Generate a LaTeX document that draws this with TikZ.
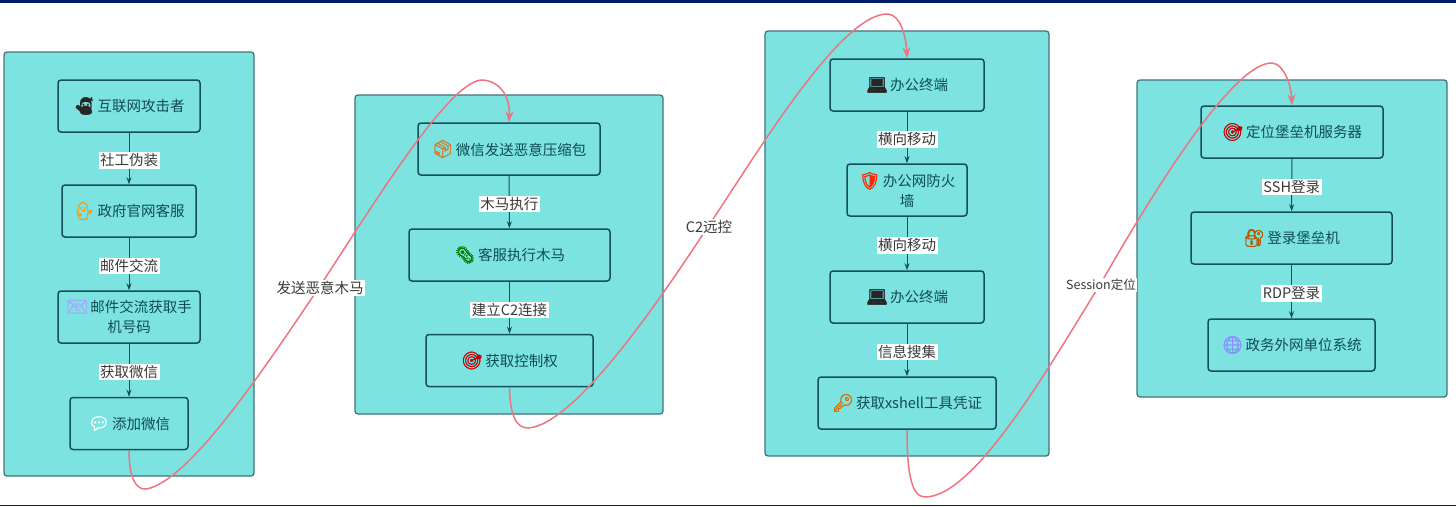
\documentclass[tikz,border=0pt]{standalone}
\usepackage{fontspec}
\setmainfont{Noto Sans CJK SC}
\newfontfamily\emojifont[Scale=1.2,FakeBold=1.6]{Noto Emoji}
\usetikzlibrary{arrows.meta}
\definecolor{panelfill}{HTML}{7CE3E1}
\definecolor{boxline}{HTML}{14505A}
\definecolor{boxtext}{HTML}{0F4C55}
\definecolor{labeltext}{HTML}{3A3A3A}
\definecolor{jump}{HTML}{EE7480}
\definecolor{navybar}{HTML}{001A66}
\newcommand{\ico}[2]{{\emojifont\color{#1}#2}\hspace{2pt}}
\tikzset{
  panel/.style={draw=boxline!80, fill=panelfill, line width=1.3pt, rounded corners=3pt, inner sep=0pt},
  stepbox/.style={draw=boxline, line width=1.5pt, rounded corners=3pt, inner sep=0pt, minimum height=52pt,
    align=center, text=boxtext, font=\fontsize{14.5pt}{20pt}\selectfont,
    execute at begin node={\vspace{3pt}}},
  flow/.style={draw=boxline, line width=1pt, -{Stealth[length=7pt,width=5pt]}},
  edgelab/.style={fill=white, inner sep=1.5pt, yshift=-2pt, text=labeltext, font=\fontsize{14.5pt}{18pt}\selectfont},
  jumpline/.style={draw=jump, line width=1.5pt, -{Stealth[length=11pt,width=8pt]}}
}
\begin{document}
\begin{tikzpicture}[x=1pt, y=-1pt]
\useasboundingbox (0,0) rectangle (1456,506);
\fill[navybar] (0,0) rectangle (1456,3);
\fill[navybar] (0,504.5) rectangle (1456,506);
% panels
\node[panel, minimum width=250pt, minimum height=424pt] (panelA) at (129,264) {};
\node[panel, minimum width=308pt, minimum height=319pt] (panelB) at (509,254.5) {};
\node[panel, minimum width=284pt, minimum height=425pt] (panelC) at (907,243.5) {};
\node[panel, minimum width=310pt, minimum height=317pt] (panelD) at (1292,238.5) {};
% first column
\node[stepbox, minimum width=142pt] (attacker) at (129,106) {\ico{black!85}{🥷}互联网攻击者};
\node[stepbox, minimum width=134pt] (service) at (129,211) {\ico{orange!80!yellow}{💁}政府官网客服};
\node[stepbox, minimum width=142pt] (mailbox) at (129,317) {\ico{blue!35!white}{📧}邮件交流获取手\\机号码};
\node[stepbox, minimum width=118pt] (wechat) at (129,423.5) {\ico{white}{💬}添加微信};
% second column
\node[stepbox, minimum width=182pt] (package) at (509,149) {\ico{brown!80!orange}{📦}微信发送恶意压缩包};
\node[stepbox, minimum width=201pt] (trojan) at (509.5,255) {\ico{green!50!black}{🦠}客服执行木马};
\node[stepbox, minimum width=167pt] (control) at (509.5,360.5) {\ico{red!75!black}{🎯}获取控制权};
% third column
\node[stepbox, minimum width=154pt] (desktopA) at (907,85) {\ico{black!85}{💻}办公终端};
\node[stepbox, minimum width=120pt] (firewall) at (907,190) {\ico{red!70!orange}{🛡}办公网防火\\墙};
\node[stepbox, minimum width=154pt] (desktopB) at (907,297) {\ico{black!85}{💻}办公终端};
\node[stepbox, minimum width=178pt] (xshell) at (907,403) {\ico{orange!85!black}{🔑}获取xshell工具凭证};
% fourth column
\node[stepbox, minimum width=182pt] (locate) at (1292,132) {\ico{red!75!black}{🎯}定位堡垒机服务器};
\node[stepbox, minimum width=201pt] (bastion) at (1291.5,238) {\ico{orange!70!black}{🔐}登录堡垒机};
\node[stepbox, minimum width=167pt] (extranet) at (1291.5,345) {\ico{blue!45!white}{🌐}政务外网单位系统};
% steps
\draw[flow] (attacker) -- node[edgelab] {社工伪装} (service);
\draw[flow] (service) -- node[edgelab] {邮件交流} (mailbox);
\draw[flow] (mailbox) -- node[edgelab] {获取微信} (wechat);
\draw[flow] (package) -- node[edgelab] {木马执行} (trojan);
\draw[flow] (trojan) -- node[edgelab] {建立C2连接} (control);
\draw[flow] (desktopA) -- node[edgelab] {横向移动} (firewall);
\draw[flow] (firewall) -- node[edgelab] {横向移动} (desktopB);
\draw[flow] (desktopB) -- node[edgelab] {信息搜集} (xshell);
\draw[flow] (locate) -- node[edgelab] {SSH登录} (bastion);
\draw[flow] (bastion) -- node[edgelab] {RDP登录} (extranet);
% jumps between panels
\coordinate (sendpt) at (320,286);
\coordinate (remotept) at (709,225);
\coordinate (sessionpt) at (1101,283);
\draw[jumpline] (wechat.south) .. controls (129,478) and (136,490) .. (146,489)
  .. controls (190,482) and (270,360) .. (sendpt)
  .. controls (370,210) and (450,78) .. (483,80)
  .. controls (503,82) and (510,100) .. (package.north);
\draw[jumpline] (control.south) .. controls (510,415) and (516,428) .. (528,428)
  .. controls (575,425) and (660,300) .. (remotept)
  .. controls (750,165) and (840,12) .. (888,14)
  .. controls (900,15) and (906,35) .. (desktopA.north);
\draw[jumpline] (xshell.south) .. controls (907,475) and (912,497) .. (925,497)
  .. controls (975,497) and (1050,365) .. (sessionpt)
  .. controls (1140,215) and (1230,62) .. (1272,63)
  .. controls (1284,64) and (1291,85) .. (locate.north);
\node[edgelab] (sendlab) at (sendpt) {发送恶意木马};
\node[edgelab] (remotelab) at (remotept) {C2远控};
\node[edgelab, font=\fontsize{12.5pt}{16pt}\selectfont] (sessionlab) at (sessionpt) {Session定位};
\end{tikzpicture}
\end{document}
